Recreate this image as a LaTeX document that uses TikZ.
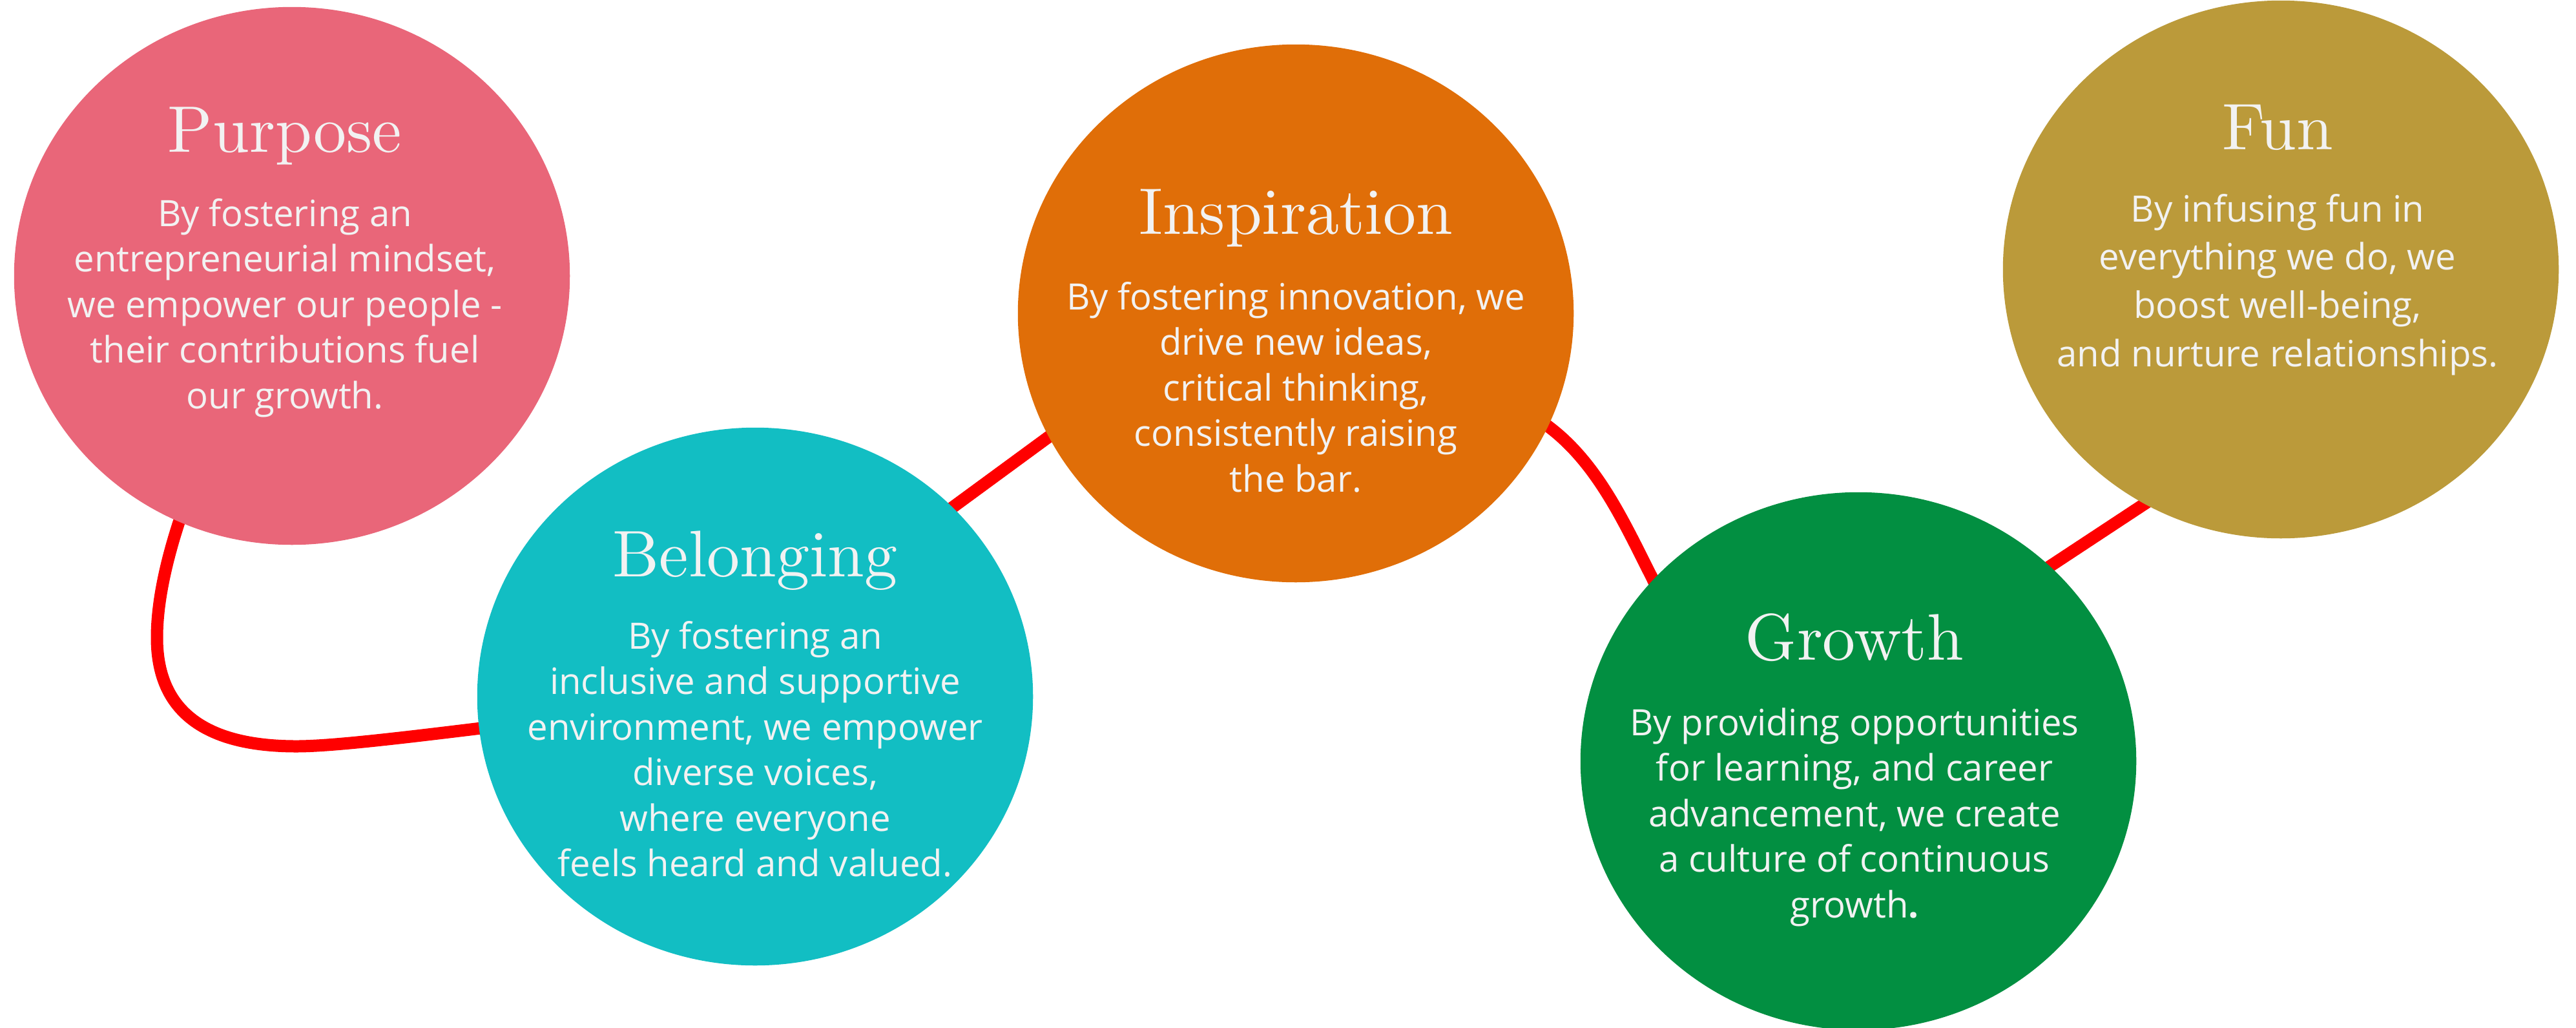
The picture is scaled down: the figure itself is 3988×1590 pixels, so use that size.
\documentclass[tikz,border=0pt]{standalone}
\usepackage{fontspec}
\newfontfamily\bodyfont{Open Sans}
\newfontfamily\headfont{lmroman10-regular.otf}
\usepackage{tikz}
\usetikzlibrary{shapes.geometric}
\usetikzlibrary{backgrounds}
\definecolor{purposepink}{HTML}{E96679}
\definecolor{belongteal}{HTML}{12BEC3}
\definecolor{inspireorange}{HTML}{E06E08}
\definecolor{growthgreen}{HTML}{028F41}
\definecolor{fungold}{HTML}{BB9A3A}
\definecolor{offwhite}{HTML}{F2F2F2}
\definecolor{linkred}{HTML}{FF0000}
\tikzstyle{bubble}=[ellipse, minimum width=8.6cm, minimum height=8.32cm,
inner sep=0pt]
\tikzstyle{heading}=[text=offwhite, font=\headfont\fontsize{29}{35}\selectfont,
anchor=base, inner sep=0pt]
\tikzstyle{blurb}=[text=offwhite, font=\bodyfont\fontsize{16}{20.06}\selectfont,
align=center, anchor=north, inner sep=0pt]
\tikzstyle{link}=[draw=linkred, line width=5.4pt, line join=round]

\begin{document}
\begin{tikzpicture}
	[x=0.01cm, y=-0.01cm]
	\useasboundingbox (0,0) rectangle (3988,1590);
	\node[bubble, fill=purposepink] (purpose) at (452,427) {};
	\node[bubble, fill=belongteal] (belonging) at (1169,1078) {};
	\node[bubble, fill=inspireorange] (inspiration) at (2006,485) {};
	\node[bubble, fill=growthgreen] (growth) at (2877,1178) {};
	\node[bubble, fill=fungold] (fun) at (3531,417) {};

	\node[heading] (purpose-head) at ([xshift=-0.11cm, yshift=1.91cm]purpose.center) {Purpose};
	\node[blurb] (purpose-text) at ([xshift=-0.11cm, yshift=1.27cm]purpose.center)
	{\strut By fostering an\\ entrepreneurial mindset,\\ we empower our people -\\
	their contributions fuel\\ our growth.};

	\node[heading] (belonging-head) at ([yshift=1.85cm]belonging.center) {Belonging};
	\node[blurb] (belonging-text) at ([yshift=1.24cm]belonging.center)
	{\strut By fostering an\\ inclusive and supportive\\ environment, we empower\\
	diverse voices,\\ where everyone\\ feels heard and valued.};

	\node[heading] (inspiration-head) at ([yshift=1.22cm]inspiration.center) {Inspiration};
	\node[blurb] (inspiration-text) at ([yshift=0.56cm]inspiration.center)
	{\strut By fostering innovation, we\\ drive new ideas,\\ critical thinking,\\
	consistently raising\\ the bar.};

	\node[heading] (growth-head) at ([xshift=-0.06cm, yshift=1.56cm]growth.center) {Growth};
	\node[blurb] (growth-text) at ([xshift=-0.06cm, yshift=0.90cm]growth.center)
	{\strut By providing opportunities\\ for learning, and career\\ advancement, we create\\
	a culture of continuous\\ growth\textbf{.}};

	\node[heading] (fun-head) at ([xshift=-0.05cm, yshift=1.85cm]fun.center) {Fun};
	\node[blurb, font=\bodyfont\fontsize{16}{21.3}\selectfont] (fun-text)
	at ([xshift=-0.05cm, yshift=1.27cm]fun.center)
	{\strut By infusing fun in\\ everything we do, we\\ boost well-being,\\
	and nurture relationships.};

	% red thread running under the bubbles
	\begin{scope}[on background layer]
	\draw[link] (purpose.center) .. controls (330,650) and (243,850) .. (243,987)
		.. controls (243,1110) and (330,1155) .. (459,1155)
		.. controls (560,1155) and (850,1110) .. (belonging.center);
	\draw[link] (belonging.center) -- (1400,840) -- (1700,620) -- (inspiration.center);
	\draw[link] (inspiration.center) -- (2333,612) -- (2397,660)
		.. controls (2473,717) and (2514,808) .. (2557,893) -- (2580,940) -- (growth.center);
	\draw[link] (growth.center) -- (3080,938) -- (3420,714) -- (fun.center);
	\end{scope}
\end{tikzpicture}
\end{document}
